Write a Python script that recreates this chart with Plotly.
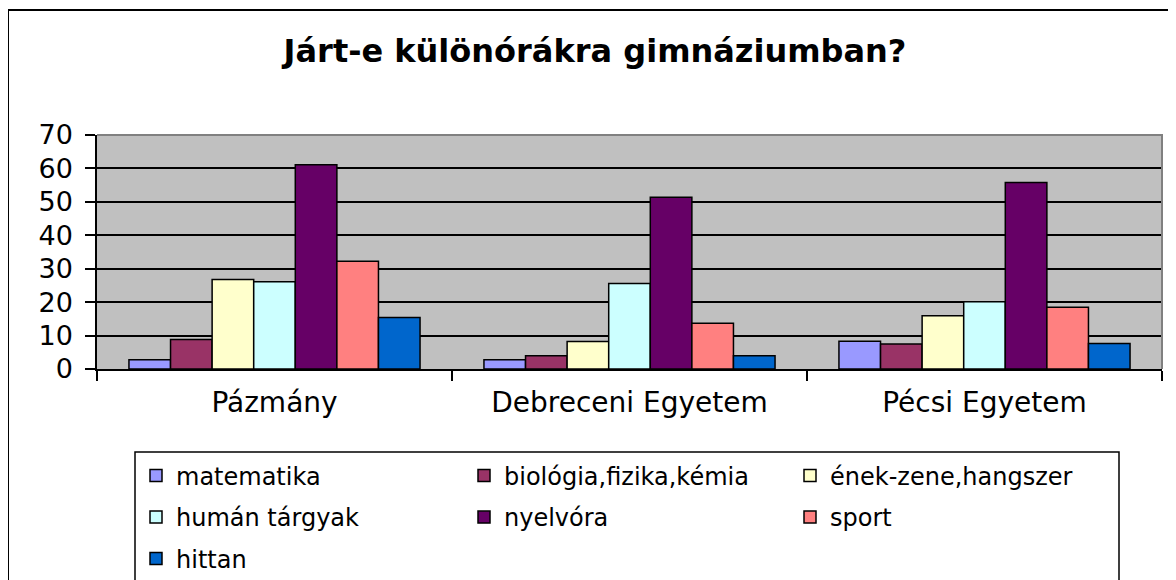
import plotly.graph_objects as go

title_text = "Járt-e különórákra gimnáziumban?"
categories = ["Pázmány", "Debreceni Egyetem", "Pécsi Egyetem"]
series_names = ["matematika", "biológia,fizika,kémia", "ének-zene,hangszer",
                "humán tárgyak", "nyelvóra", "sport", "hittan"]
matematika = [2.8, 2.8, 8.3]
biologia_fizika_kemia = [8.8, 4.0, 7.5]
enek_zene_hangszer = [26.8, 8.2, 15.9]
human_targyak = [26.1, 25.6, 20.1]
nyelvora = [61.1, 51.4, 55.8]
sport = [32.2, 13.7, 18.5]
hittan = [15.4, 4.0, 7.6]
series_values = [matematika, biologia_fizika_kemia, enek_zene_hangszer,
                 human_targyak, nyelvora, sport, hittan]
colors = ["#9999FF", "#993366", "#FFFFCC", "#CCFFFF", "#660066", "#FF8080", "#0066CC"]
y_ticks = [0, 10, 20, 30, 40, 50, 60, 70]

W, H = 1176, 580
OFF = 8  # page offset of the figure inside the browser window
# plot area in window pixels
L0, R0, T0, B0 = 97, 1162, 135, 369
L, R, T, B = L0 - OFF, R0 - OFF, T0 - OFF, B0 - OFF


def px(x):
    return (x - OFF - L) / (R - L)


def py(y):
    return (B - (y - OFF)) / (B - T)


# legend item positions (symbol centre x, row centre y) in window pixels
leg_cols = [156, 484, 810]
leg_rows = [476, 517.5, 559]

fig = go.Figure()
legend_layouts = {}
for i, (name, vals, col) in enumerate(zip(series_names, series_values, colors)):
    lname = "legend" if i == 0 else f"legend{i + 1}"
    fig.add_trace(go.Bar(
        x=categories, y=vals, name=name,
        marker=dict(color=col, line=dict(color="black", width=1.5)),
        legend=lname,
    ))
    cx = leg_cols[i % 3]
    cy = leg_rows[i // 3]
    legend_layouts[lname] = dict(
        x=px(cx - 20), y=py(cy), xref="paper", yref="paper",
        xanchor="left", yanchor="middle",
        bgcolor="rgba(0,0,0,0)", borderwidth=0,
        font=dict(family="DejaVu Sans", size=24, color="black"),
        itemclick=False, itemdoubleclick=False,
    )

fig.update_layout(
    width=W, height=H,
    margin=dict(l=L, r=W - R, t=T, b=H - B, autoexpand=False),
    paper_bgcolor="white",
    plot_bgcolor="#C0C0C0",
    barmode="group",
    bargap=0.18,
    bargroupgap=0,
    title=dict(
        text=title_text, x=(595 - OFF) / W, xref="container", xanchor="center",
        y=1 - (51 - OFF) / H, yref="container", yanchor="middle",
        font=dict(family="DejaVu Sans", size=32, color="black", weight="bold"),
    ),
    font=dict(family="DejaVu Sans", color="black"),
    showlegend=True,
    **legend_layouts,
)

fig.update_yaxes(
    range=[0, 70], tickvals=y_ticks, ticktext=[str(v) for v in y_ticks],
    showgrid=True, gridcolor="black", gridwidth=1.5,
    showline=True, linecolor="black", linewidth=1.5,
    ticks="outside", ticklen=10, tickwidth=1.5, tickcolor="black",
    ticklabelstandoff=7,
    tickfont=dict(family="DejaVu Sans", size=27, color="black"),
    zeroline=False, fixedrange=True,
)
fig.update_xaxes(
    showgrid=False, showline=True, linecolor="black", linewidth=1.5,
    ticks="outside", ticklen=10, tickwidth=1.5, tickcolor="black",
    tickson="boundaries", ticklabelstandoff=8,
    tickfont=dict(family="DejaVu Sans", size=28, color="black"),
    fixedrange=True,
)

# plot-area border (top and right, grey)
fig.add_shape(type="path", xref="paper", yref="paper",
              path="M 0,1 L 1,1 L 1,0",
              line=dict(color="#808080", width=2), layer="above")
# outer chart frame
fig.add_shape(type="rect", xref="paper", yref="paper",
              x0=px(8), x1=px(1200), y0=py(620), y1=py(10),
              line=dict(color="black", width=2), fillcolor="rgba(0,0,0,0)", layer="above")
# legend box
fig.add_shape(type="rect", xref="paper", yref="paper",
              x0=px(135), x1=px(1119), y0=py(620), y1=py(452),
              line=dict(color="black", width=1.5), fillcolor="rgba(0,0,0,0)", layer="above")

fig.write_html("out.html")
